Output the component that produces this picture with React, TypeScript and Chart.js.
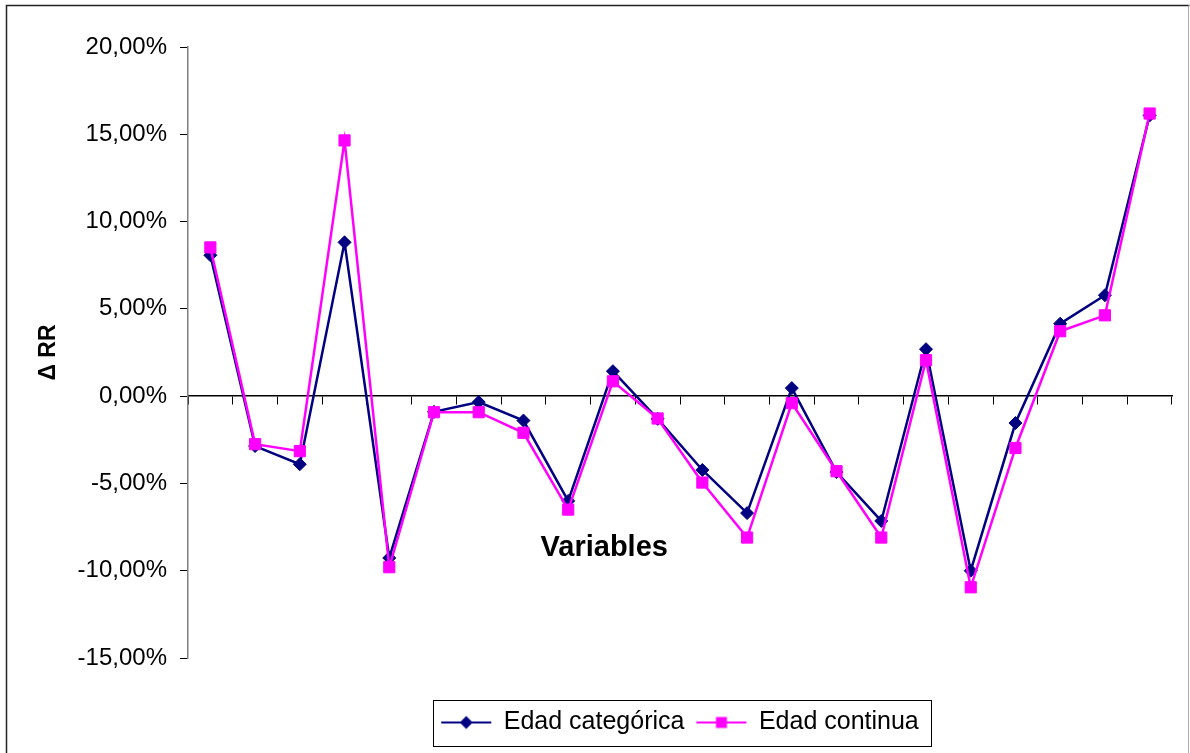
import React, { useEffect, useRef } from "react";
import { Chart, registerables } from "chart.js";

Chart.register(...registerables);

const categories: string[] = [
  "1", "2", "3", "4", "5", "6", "7", "8", "9", "10", "11",
  "12", "13", "14", "15", "16", "17", "18", "19", "20", "21", "22",
];

const edadCategorica: number[] = [
  8.07, -2.86, -3.9, 8.81, -9.27, -0.9, -0.34, -1.4, -6.0, 1.43, -1.3,
  -4.23, -6.7, 0.46, -4.35, -7.15, 2.69, -10.0, -1.54, 4.15, 5.78, 16.08,
];

const edadContinua: number[] = [
  8.52, -2.75, -3.15, 14.65, -9.8, -0.92, -0.92, -2.1, -6.5, 0.85, -1.28,
  -4.95, -8.1, -0.4, -4.3, -8.1, 2.06, -10.95, -2.97, 3.72, 4.63, 16.19,
];

const seriesNames: string[] = ["Edad categórica", "Edad continua"];
const yTicks: number[] = [-15, -10, -5, 0, 5, 10, 15, 20];

const NAVY = "#000080";
const MAGENTA = "#FF00FF";
const FONT = "'Liberation Sans', Arial, sans-serif";

function makeLegendIcon(color: string, shape: "diamond" | "square"): HTMLCanvasElement {
  const c = document.createElement("canvas");
  c.width = 62;
  c.height = 16;
  const ctx = c.getContext("2d")!;
  ctx.strokeStyle = color;
  ctx.lineWidth = 2;
  ctx.beginPath();
  ctx.moveTo(6, 8);
  ctx.lineTo(56, 8);
  ctx.stroke();
  ctx.fillStyle = color;
  if (shape === "diamond") {
    ctx.beginPath();
    ctx.moveTo(31, 1.5);
    ctx.lineTo(37.5, 8);
    ctx.lineTo(31, 14.5);
    ctx.lineTo(24.5, 8);
    ctx.closePath();
    ctx.fill();
  } else {
    ctx.fillRect(25.5, 2.5, 11, 11);
  }
  return c;
}

export default function App() {
  const canvasRef = useRef<HTMLCanvasElement | null>(null);

  useEffect(() => {
    document.body.style.margin = "0";
    const canvas = canvasRef.current;
    if (!canvas) return;

    const icons = [makeLegendIcon(NAVY, "diamond"), makeLegendIcon(MAGENTA, "square")];

    const framePlugin = {
      id: "framePlugin",
      afterDraw(chart: any) {
        const ctx = chart.ctx;
        ctx.save();
        // outer frame
        ctx.lineWidth = 1.5;
        ctx.strokeStyle = "#222";
        ctx.beginPath();
        ctx.moveTo(6.5, 760);
        ctx.lineTo(6.5, 5.5);
        ctx.lineTo(1189.5, 5.5);
        ctx.stroke();
        ctx.strokeStyle = "#aaa";
        ctx.lineWidth = 1;
        ctx.beginPath();
        ctx.moveTo(1188.5, 5.5);
        ctx.lineTo(1188.5, 760);
        ctx.stroke();

        // legend frame
        const legend = chart.legend;
        if (legend && legend.legendHitBoxes && legend.legendHitBoxes.length) {
          const hb = legend.legendHitBoxes;
          let minX = Infinity, maxX = -Infinity, minY = Infinity, maxY = -Infinity;
          hb.forEach((b: any) => {
            minX = Math.min(minX, b.left);
            maxX = Math.max(maxX, b.left + b.width);
            minY = Math.min(minY, b.top);
            maxY = Math.max(maxY, b.top + b.height);
          });
          ctx.strokeStyle = "#000";
          ctx.lineWidth = 1;
          ctx.strokeRect(Math.round(minX - 8) + 0.5, Math.round(minY - 10) + 0.5,
            Math.round(maxX - minX + 20), Math.round(maxY - minY + 21));
        }

        // x-axis title
        const area = chart.chartArea;
        const yScale = chart.scales.y;
        ctx.fillStyle = "#000";
        ctx.font = `bold 29px ${FONT}`;
        ctx.textAlign = "center";
        ctx.textBaseline = "middle";
        ctx.fillText("Variables", area.left + area.width * 0.423, yScale.getPixelForValue(-8.7));
        ctx.restore();
      },
    };

    const chart = new Chart(canvas, {
      type: "line",
      data: {
        labels: categories,
        datasets: [
          {
            label: seriesNames[0],
            data: edadCategorica,
            borderColor: NAVY,
            backgroundColor: NAVY,
            borderWidth: 2.5,
            pointStyle: "rectRot",
            pointRadius: 6.5,
            pointBorderWidth: 1,
            pointBackgroundColor: NAVY,
            pointBorderColor: NAVY,
            tension: 0,
            order: 1,
          },
          {
            label: seriesNames[1],
            data: edadContinua,
            borderColor: MAGENTA,
            backgroundColor: MAGENTA,
            borderWidth: 2.5,
            pointStyle: "rect",
            pointRadius: 7.9,
            pointBorderWidth: 1,
            pointBackgroundColor: MAGENTA,
            pointBorderColor: MAGENTA,
            tension: 0,
            order: 0,
          },
        ],
      },
      options: {
        responsive: false,
        animation: false,
        events: [],
        layout: { padding: { left: 35, right: 18, top: 47, bottom: 8 } },
        scales: {
          x: {
            type: "category",
            offset: true,
            position: { y: 0 } as any,
            grid: {
              offset: true,
              drawOnChartArea: false,
              drawTicks: true,
              tickLength: 8,
              color: "#000",
              lineWidth: 1,
            },
            border: { color: "#000", width: 1.5 },
            ticks: { display: false },
          },
          y: {
            min: -15,
            max: 20,
            afterBuildTicks: (scale: any) => {
              scale.ticks = yTicks.map((v) => ({ value: v }));
            },
            afterFit: (scale: any) => {
              scale.width = 153;
            },
            grid: {
              drawOnChartArea: false,
              drawTicks: true,
              tickLength: 8,
              color: "#000",
            },
            border: { color: "#808080", width: 1.5 },
            ticks: {
              color: "#000",
              padding: 13,
              font: { family: FONT, size: 24 },
              callback: (v: any) => Number(v).toFixed(2).replace(".", ",") + "%",
            },
            title: {
              display: true,
              text: "Δ RR",
              color: "#000",
              font: { family: FONT, size: 23, weight: "bold" },
              padding: { top: 0, bottom: 0 },
            },
          },
        },
        plugins: {
          tooltip: { enabled: false },
          legend: {
            position: "bottom",
            fullSize: false,
            title: {
              display: true,
              text: "",
              padding: 0,
              font: { size: 40, lineHeight: 1 },
            },
            labels: {
              usePointStyle: true,
              pointStyleWidth: 50,
              padding: 12,
              color: "#000",
              font: { family: FONT, size: 25 },
              sort: (a: any, b: any) => a.datasetIndex - b.datasetIndex,
              generateLabels: (ch: any) => {
                const items = Chart.defaults.plugins.legend.labels.generateLabels(ch);
                return items.map((it: any) => ({
                  ...it,
                  pointStyle: icons[it.datasetIndex],
                  fontColor: "#000",
                }));
              },
            },
          },
        },
      },
      plugins: [framePlugin],
    } as any);

    return () => chart.destroy();
  }, []);

  return (
    <div style={{ position: "absolute", left: 0, top: 0, width: 1190, height: 753, background: "#fff" }}>
      <canvas ref={canvasRef} width={1190} height={753} />
    </div>
  );
}
